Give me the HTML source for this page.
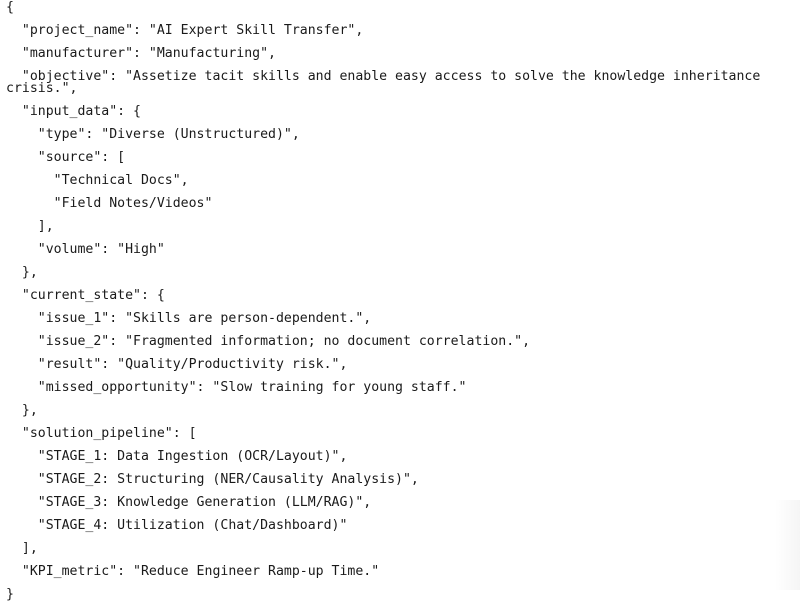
<!DOCTYPE html>
<html><head><meta charset="utf-8"><style>
html,body{margin:0;padding:0;background:#fff;width:800px;height:590px;overflow:hidden;}
#c{position:absolute;left:6px;top:2px;width:790px;font-family:"DejaVu Sans Mono","Liberation Mono",monospace;font-size:13.2px;color:#1a1a1a;}
#c div{white-space:pre-wrap;line-height:12px;margin-bottom:11px;}
#sh{position:absolute;right:0;top:500px;width:25px;height:90px;background:linear-gradient(to right,rgba(0,0,0,0),rgba(0,0,0,0.04));}
</style></head><body>
<div id="sh"></div>
<div id="c">
<div>{</div>
<div>  "project_name": "AI Expert Skill Transfer",</div>
<div>  "manufacturer": "Manufacturing",</div>
<div>  "objective": "Assetize tacit skills and enable easy access to solve the knowledge inheritance crisis.",</div>
<div>  "input_data": {</div>
<div>    "type": "Diverse (Unstructured)",</div>
<div>    "source": [</div>
<div>      "Technical Docs",</div>
<div>      "Field Notes/Videos"</div>
<div>    ],</div>
<div>    "volume": "High"</div>
<div>  },</div>
<div>  "current_state": {</div>
<div>    "issue_1": "Skills are person-dependent.",</div>
<div>    "issue_2": "Fragmented information; no document correlation.",</div>
<div>    "result": "Quality/Productivity risk.",</div>
<div>    "missed_opportunity": "Slow training for young staff."</div>
<div>  },</div>
<div>  "solution_pipeline": [</div>
<div>    "STAGE_1: Data Ingestion (OCR/Layout)",</div>
<div>    "STAGE_2: Structuring (NER/Causality Analysis)",</div>
<div>    "STAGE_3: Knowledge Generation (LLM/RAG)",</div>
<div>    "STAGE_4: Utilization (Chat/Dashboard)"</div>
<div>  ],</div>
<div>  "KPI_metric": "Reduce Engineer Ramp-up Time."</div>
<div>}</div>
</div>
</body></html>
